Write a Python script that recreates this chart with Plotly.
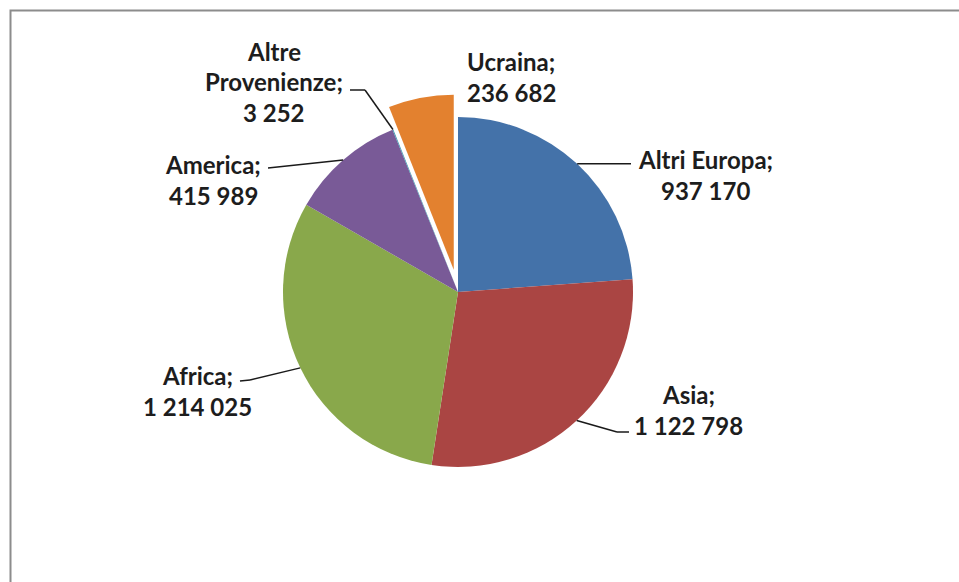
import math
import plotly.graph_objects as go

# ---------------- data ----------------
labels = ["Altri Europa", "Asia", "Africa", "America", "Altre Provenienze", "Ucraina"]
values = [937170, 1122798, 1214025, 415989, 3252, 236682]
value_text = ["937 170", "1 122 798", "1 214 025", "415 989", "3 252", "236 682"]
label_lines = [["Altri Europa;"], ["Asia;"], ["Africa;"], ["America;"],
               ["Altre", "Provenienze;"], ["Ucraina;"]]
colors = ["#4472A9", "#AA4543", "#89A84B", "#795A97", "#3F97B0", "#E3812F"]
pulls = [0, 0, 0, 0, 0, 0.13]

# ---------------- geometry (pixels) ----------------
W, H = 959, 582
CX, CY, R = 458, 292, 175
LINE_GAP = 31
maxpull = max(pulls)
half = R * (1 + maxpull)
dom_x = [(CX - half) / W, (CX + half) / W]
dom_y = [1 - (CY + half) / H, 1 - (CY - half) / H]

# label block placement (pixel centres) and leader-line knees
label_layout = {
    "Altri Europa": dict(x=705, y=175, knees=[(631, None)]),
    "Asia": dict(x=688, y=410, knees=[(617, 432), (629, 432)]),
    "Africa": dict(x=197, y=391, knees=[(250, 380), (240, 381)]),
    "America": dict(x=213, y=180, knees=[(268, 168)]),
    "Altre Provenienze": dict(x=274, y=82, knees=[(365, 90), (350, 90)]),
    "Ucraina": dict(x=511, y=77, knees=[]),
}


def px(x, y):
    return x / W, 1 - y / H


fig = go.Figure(
    go.Pie(
        labels=labels,
        values=values,
        sort=False,
        direction="clockwise",
        rotation=0,
        pull=pulls,
        marker=dict(colors=colors, line=dict(width=0)),
        textinfo="none",
        hoverinfo="skip",
        showlegend=False,
        domain=dict(x=dom_x, y=dom_y),
    )
)

font = dict(family="Lato, Carlito, Calibri, sans-serif", size=24,
            color="#1d1d1d", weight="bold")

total = sum(values)
cum = 0.0
shapes = []
annotations = []
for lab, val, vt, ll in zip(labels, values, value_text, label_lines):
    mid = (cum + val / 2) / total * 2 * math.pi
    cum += val
    ax = CX + R * math.sin(mid)
    ay = CY - R * math.cos(mid)
    spec = label_layout[lab]
    pts = [(ax, ay)]
    for kx, ky in spec["knees"]:
        pts.append((kx, ay if ky is None else ky))
    for (x0, y0), (x1, y1) in zip(pts[:-1], pts[1:]):
        p0 = px(x0, y0)
        p1 = px(x1, y1)
        shapes.append(dict(type="line", xref="paper", yref="paper",
                           x0=p0[0], y0=p0[1], x1=p1[0], y1=p1[1],
                           line=dict(color="#1a1a1a", width=1.5)))
    lines = ll + [vt]
    n = len(lines)
    for i, t in enumerate(lines):
        ly = spec["y"] + (i - (n - 1) / 2) * LINE_GAP
        tx, ty = px(spec["x"], ly)
        annotations.append(dict(
            x=tx, y=ty, xref="paper", yref="paper",
            text=t, showarrow=False, align="center",
            xanchor="center", yanchor="middle", font=font,
        ))

# outer frame (chart area border, partly cropped)
shapes.append(dict(type="rect", xref="paper", yref="paper",
                   x0=10.5 / W, x1=(W + 6) / W, y0=-6 / H, y1=1 - 10.5 / H,
                   line=dict(color="#8c8c8c", width=2), layer="below"))

fig.update_layout(
    width=W, height=H,
    margin=dict(l=0, r=0, t=0, b=0),
    paper_bgcolor="white", plot_bgcolor="white",
    shapes=shapes, annotations=annotations,
)

fig.write_html(
    "out.html",
    config={"displayModeBar": False},
    post_script="document.body.style.margin='0';document.body.style.overflow='hidden';",
)
